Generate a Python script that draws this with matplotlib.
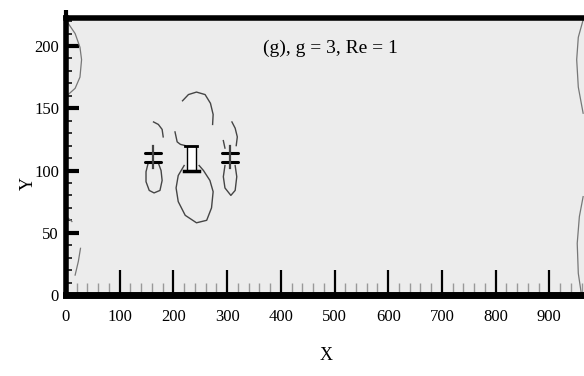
import numpy as np
import matplotlib.pyplot as plt
from matplotlib.patches import Rectangle
from matplotlib.ticker import MultipleLocator, FixedLocator

plt.rcParams['font.family'] = ['Liberation Serif', 'DejaVu Serif']

# contornos de vorticidade (x, y) lidos do campo, g = 3, Re = 1
# corpo central
c_baixo_x = [220, 209, 205, 209, 222, 243, 262, 271, 274, 268, 256, 248]
c_baixo_y = [104, 96, 86, 75, 64, 58, 60, 70, 83, 92, 100, 104]
c_cima_x = [217, 228, 243, 259, 269, 274, 273]
c_cima_y = [156, 161, 163, 161, 154, 145, 137]
c_frag_x = [203, 207, 213, 222]
c_frag_y = [131, 123, 121, 120]

# cilindro da esquerda
e_baixo_x = [153, 149, 149, 155, 164, 175, 179, 177, 172]
e_baixo_y = [106, 99, 91, 84, 82, 84, 92, 100, 106]
e_cima_x = [163, 172, 179, 181]
e_cima_y = [139, 137, 133, 127]

# cilindro da direita
d_baixo_x = [296, 293, 296, 307, 315, 318, 315]
d_baixo_y = [104, 95, 86, 80, 84, 95, 104]
d_cima_x = [309, 315, 319, 317]
d_cima_y = [139, 134, 127, 120]
d_frag_x = [293, 296]
d_frag_y = [124, 118]

# contornos nas bordas do dominio
b1_x = [2, 17, 26, 29, 26, 17, 4]
b1_y = [219.5, 210, 199, 189, 175, 166, 161]
b2_x = [27, 23, 17]
b2_y = [37.5, 27, 16]
b3_x = [1, 11]
b3_y = [63, 59]
b4_x = [963, 954, 951, 954, 963]
b4_y = [221, 207, 189, 167, 146]
b5_x = [963, 956, 952, 954, 960]
b5_y = [79, 63, 41.5, 17.4, 0]

# corpos: retangulo central e os dois cilindros
ret_x, ret_y, ret_w, ret_h = 225, 100, 17, 20
cil_x = [162, 305]
barra_y = [107, 114]
barra_meia = 15

# rotulos dos eixos
x_ticks = [0, 100, 200, 300, 400, 500, 600, 700, 800, 900]
y_ticks = [0, 50, 100, 150, 200]

fig = plt.figure(figsize=(5.84, 3.76), dpi=100)
ax = fig.add_axes([66 / 584, 81 / 376, 537 / 584, 277 / 376])
ax.set_facecolor('#ececec')
ax.set_xlim(0, 1000)
ax.set_ylim(0, 222.5)

cor = '#454545'
for xs, ys in [(c_baixo_x, c_baixo_y), (c_cima_x, c_cima_y), (c_frag_x, c_frag_y),
               (e_baixo_x, e_baixo_y), (e_cima_x, e_cima_y),
               (d_baixo_x, d_baixo_y), (d_cima_x, d_cima_y), (d_frag_x, d_frag_y)]:
    ax.plot(xs, ys, color=cor, lw=1.0)
for xs, ys in [(b1_x, b1_y), (b2_x, b2_y), (b3_x, b3_y), (b4_x, b4_y), (b5_x, b5_y)]:
    ax.plot(xs, ys, color='#777777', lw=0.9)

# retangulo central
ax.add_patch(Rectangle((ret_x, ret_y), ret_w, ret_h, facecolor='white',
                       edgecolor='black', lw=1.0, zorder=3))
ax.plot([ret_x - 5, ret_x + ret_w + 6], [ret_y, ret_y], color='black', lw=2.5, zorder=4)
ax.plot([ret_x - 4, ret_x + ret_w + 2], [ret_y + ret_h, ret_y + ret_h], color='black', lw=2.0, zorder=4)

# cilindros pequenos
for cx in cil_x:
    for by in barra_y:
        ax.plot([cx - barra_meia, cx + barra_meia], [by, by], color='black', lw=2.2,
                solid_capstyle='round', zorder=4)
    ax.plot([cx, cx], [102, 120], color='#444444', lw=1.6, zorder=4)

# eixos no estilo tecplot
for lado in ['top', 'bottom', 'left']:
    ax.spines[lado].set_linewidth(4)
ax.spines['bottom'].set_linewidth(5)
ax.spines['right'].set_visible(False)
ax.plot([0, 0], [222.5, 229], color='black', lw=3, clip_on=False, solid_capstyle='butt')

ax.xaxis.set_major_locator(FixedLocator(x_ticks))
ax.xaxis.set_minor_locator(MultipleLocator(20))
ax.yaxis.set_major_locator(FixedLocator(y_ticks))
ax.yaxis.set_minor_locator(MultipleLocator(10))
ax.tick_params(axis='x', which='major', direction='in', length=18, width=1.6,
               color='black', pad=10, labelsize=12)
ax.tick_params(axis='x', which='minor', direction='in', length=9, width=1.0, color='#999999')
ax.tick_params(axis='y', which='major', direction='in', length=9, width=3,
               color='black', pad=5, labelsize=12)
ax.tick_params(axis='y', which='minor', direction='in', length=4.5, width=1.1, color='black')

ax.text(492, 198, '(g), g = 3, Re = 1', ha='center', va='center', fontsize=14)
fig.text(326 / 584, 1 - 355 / 376, 'X', ha='center', va='center', fontsize=13)
fig.text(28 / 584, 1 - 184 / 376, 'Y', ha='center', va='center', fontsize=13, rotation=90)

fig.savefig('out.png', dpi=100)
